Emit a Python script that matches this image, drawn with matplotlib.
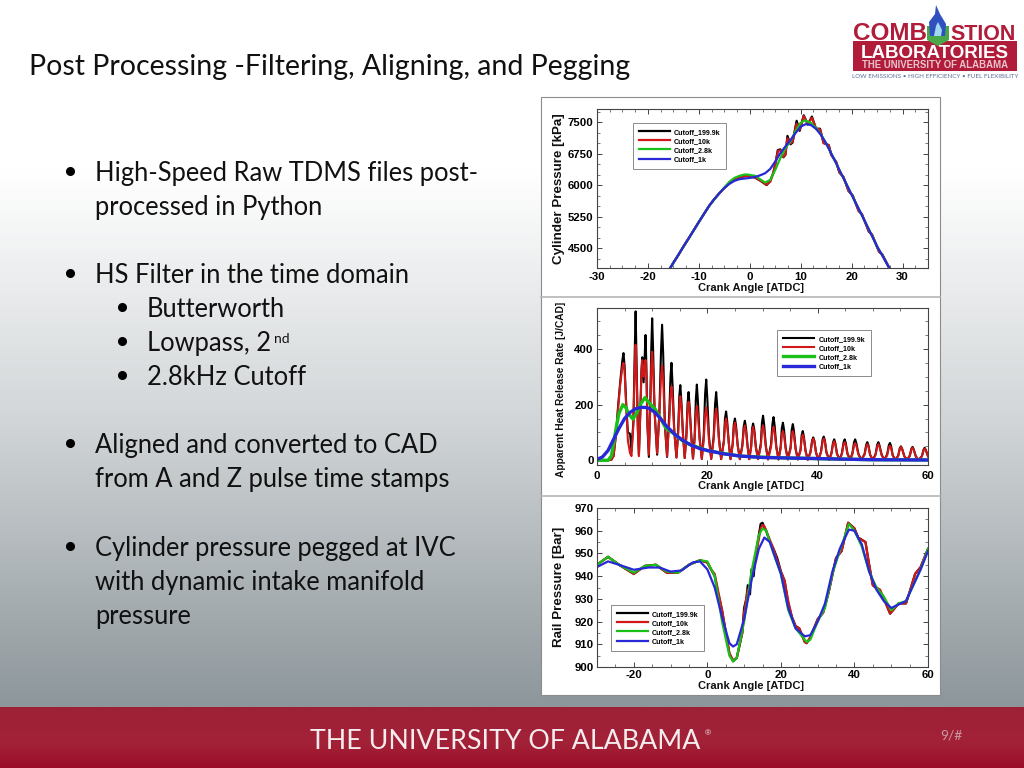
import matplotlib
matplotlib.use("Agg")
import matplotlib.pyplot as plt
from matplotlib.colors import LinearSegmentedColormap
from matplotlib.patches import Rectangle, Polygon
from matplotlib.ticker import MultipleLocator
import numpy as np

# slide text
title = "Post Processing -Filtering, Aligning, and Pegging"
body_lines = [
    ("High-Speed Raw TDMS files post-", 95, 181, True),
    ("processed in Python", 95, 215, False),
    ("HS Filter in the time domain", 95, 283, True),
    ("Butterworth", 147, 317, True),
    ("Lowpass, 2", 147, 351, True),
    ("2.8kHz Cutoff", 147, 385, True),
    ("Aligned and converted to CAD", 95, 453, True),
    ("from A and Z pulse time stamps", 95, 487, False),
    ("Cylinder pressure pegged at IVC", 95, 556, True),
    ("with dynamic intake manifold", 95, 590, False),
    ("pressure", 95, 624, False),
]
series_names = ["Cutoff_199.9k", "Cutoff_10k", "Cutoff_2.8k", "Cutoff_1k"]
series_colors = ["#000000", "#d01818", "#18c018", "#2828d8"]

# cylinder pressure, top panel
cyl_a_x = [-16, -15, -14, -13, -12, -11, -10, -9, -8, -7, -6, -5, -4, -3, -2, -0.5, 1, 2, 3.3, 4, 4.6, 5.1, 5.5, 6, 6.6, 7, 7.4, 8, 8.4, 9.2, 9.8,
           10.6, 11.4, 12.2, 13, 13.8, 14.5, 15.5, 16, 17, 17.6, 18.4, 19.4, 20.2, 21.4, 22, 23.4, 24, 25.4, 26, 27.6]
cyl_black = [3950, 4150, 4340, 4540, 4730, 4925, 5120, 5310, 5500, 5660, 5800, 5930, 6040, 6130, 6190, 6220, 6180, 6110, 6000, 6090, 6280, 6550, 6830, 6850, 6660, 6720,
             7170, 6970, 7010, 7530, 7290, 7660, 7440, 7630, 7340, 7340, 7000, 6950, 6720, 6540, 6300, 6190, 5860, 5750, 5380,
             5310, 4890, 4820, 4410, 4350, 3980]
cyl_red = [3950, 4150, 4340, 4540, 4730, 4925, 5120, 5310, 5500, 5660, 5800, 5930, 6040, 6130, 6190, 6220, 6180, 6110, 6010, 6080, 6280, 6530, 6810, 6830, 6670, 6730,
           7110, 6990, 7030, 7460, 7320, 7640, 7450, 7600, 7350, 7320, 7000, 6950, 6720, 6540, 6300, 6190, 5860, 5750, 5380,
           5310, 4890, 4820, 4410, 4350, 3980]
cyl_green_x = [-16, -14, -12, -10, -8, -6, -5, -4, -3, -2, -1, -0.5, 1, 2, 3, 4, 5, 6, 7, 8, 9, 10, 10.8, 12, 13, 14, 15, 16, 17, 18, 19, 20, 21, 22, 23, 24, 25, 26, 27, 27.6]
cyl_green = [3950, 4340, 4730, 5120, 5500, 5800, 5940, 6080, 6170, 6220, 6250, 6250, 6220, 6140, 6060, 6120, 6360, 6640, 6880, 7040, 7290, 7480, 7540,
             7480, 7360, 7200, 6990, 6750, 6510, 6260, 6020, 5770, 5530, 5285, 5040, 4790, 4540, 4330, 4110, 3980]
cyl_blue_x = [-16, -15, -14, -13, -12, -11, -10, -9, -8, -7, -6, -5, -4, -3, -2, 0, 1, 2, 3, 4, 5, 6, 7, 8, 9, 10, 11, 12, 13, 14, 15, 16, 17, 18, 19, 20, 21, 22, 23, 24, 25, 26, 27, 27.6]
cyl_blue = [3950, 4150, 4340, 4540, 4730, 4925, 5120, 5310, 5500, 5660, 5800, 5930, 6030, 6100, 6140, 6170, 6190, 6230, 6280, 6380, 6560, 6760, 6920, 7070, 7240, 7390, 7450,
            7430, 7340, 7190, 6990, 6750, 6510, 6260, 6020, 5770, 5530, 5285, 5040, 4790, 4540, 4330, 4110, 3980]

# heat release rate, middle panel
hrr_x = [0, 2, 2.6, 3.0, 3.5, 3.8, 4.2, 4.6, 4.8, 5.0, 5.3, 5.6, 6.0, 6.25,
         6.6, 6.85, 7.0, 7.15, 7.4, 7.6,
         7.85, 8.05, 8.2, 8.45, 8.65, 8.8, 8.95, 9.15, 9.4,
         9.65, 9.85, 10, 10.15, 10.45, 10.9,
         11.3, 11.6, 11.8, 12, 12.3, 12.7,
         13.1, 13.32, 13.5, 13.7, 14, 14.4,
         14.7, 14.92, 15.1, 15.3, 15.6, 15.9,
         16.2, 16.42, 16.6, 16.8, 17.1, 17.4,
         17.7, 17.92, 18.1, 18.3, 18.6, 19,
         19.35, 19.6, 19.8, 20, 20.3, 20.7,
         21.15, 21.4, 21.6, 21.8, 22.1, 22.5,
         23, 23.2, 23.4, 23.6, 23.9, 24.2,
         24.6, 24.8, 25, 25.2, 25.5, 25.9,
         26.35, 26.6, 26.8, 27, 27.3, 27.6,
         27.95, 28.12, 28.3, 28.5, 28.8, 29.2,
         29.7, 29.9, 30.1, 30.3, 30.6, 31,
         31.55, 31.8, 32, 32.2, 32.5, 32.9,
         33.3, 33.5, 33.7, 33.9, 34.2, 34.6,
         35.1, 35.3, 35.5, 35.7, 36, 36.4,
         36.9, 37.1, 37.3, 37.5, 37.8, 38.2,
         38.7, 39, 39.2, 39.4, 39.7, 40.1,
         40.6, 40.9, 41.1, 41.3, 41.6, 42.1,
         42.5, 42.8, 43, 43.2, 43.5, 44,
         44.4, 44.7, 44.9, 45.1, 45.4, 45.9,
         46.3, 46.6, 46.8, 47, 47.4, 47.9,
         48.5, 48.8, 49, 49.2, 49.5, 50,
         50.5, 50.8, 51, 51.2, 51.6, 52.1,
         52.6, 52.9, 53.1, 53.3, 53.6, 54.1,
         54.6, 54.9, 55.1, 55.3, 55.7, 56.2,
         56.7, 57, 57.2, 57.4, 57.8, 58.3,
         58.9, 59.2, 59.4, 59.6, 60]
hrr_black = [0, 0, 2, 15, 105, 190, 280, 360, 385, 340, 200, 100, 95, 35,
             140, 400, 535, 380, 120, 20,
             170, 320, 370, 280, 380, 450, 340, 120, 12,
             200, 410, 510, 410, 170, 20,
             170, 390, 487, 380, 130, 12,
             170, 300, 350, 270, 110, 10,
             100, 230, 270, 210, 90, 8,
             90, 205, 245, 190, 85, 6,
             85, 220, 272, 210, 80, 5,
             90, 240, 290, 220, 85, 5,
             85, 200, 245, 190, 80, 4,
             70, 150, 175, 140, 60, 4,
             60, 130, 150, 125, 55, 4,
             55, 122, 142, 118, 50, 4,
             52, 115, 132, 112, 48, 4,
             60, 135, 160, 128, 52, 3,
             58, 130, 155, 125, 50, 3,
             50, 115, 135, 110, 45, 3,
             48, 110, 130, 105, 42, 3,
             38, 90, 105, 85, 35, 2,
             30, 72, 82, 70, 28, 2,
             30, 75, 85, 72, 28, 2,
             26, 65, 75, 62, 24, 2,
             26, 65, 75, 62, 24, 2,
             26, 65, 75, 62, 22, 2,
             22, 56, 65, 54, 20, 1,
             22, 56, 65, 54, 20, 1,
             22, 54, 62, 52, 18, 1,
             17, 44, 50, 42, 15, 1,
             17, 42, 48, 40, 14, 1,
             15, 38, 45, 37, 14]
hrr_red = [0, 0, 2, 15, 100, 180, 270, 335, 350, 320, 190, 70, 25, 15,
           130, 350, 415, 330, 110, 15,
           170, 310, 360, 300, 340, 360, 310, 130, 20,
           190, 340, 390, 340, 170, 25,
           160, 300, 340, 290, 130, 15,
           140, 235, 265, 225, 105, 10,
           90, 200, 230, 190, 85, 8,
           85, 180, 210, 175, 80, 6,
           75, 165, 195, 160, 75, 5,
           75, 165, 190, 155, 70, 5,
           75, 160, 185, 155, 75, 4,
           65, 130, 150, 125, 60, 4,
           55, 118, 135, 115, 52, 4,
           50, 108, 125, 105, 48, 4,
           48, 105, 120, 102, 45, 4,
           50, 108, 125, 105, 48, 3,
           48, 103, 120, 100, 45, 3,
           42, 92, 105, 90, 40, 3,
           42, 92, 105, 90, 40, 3,
           35, 80, 92, 78, 32, 2,
           28, 68, 78, 68, 28, 2,
           28, 68, 78, 68, 26, 2,
           24, 60, 68, 58, 22, 2,
           24, 57, 65, 55, 22, 2,
           22, 55, 62, 53, 20, 2,
           20, 50, 58, 50, 20, 1,
           20, 50, 58, 50, 18, 1,
           18, 46, 52, 45, 17, 1,
           16, 42, 48, 41, 15, 1,
           15, 40, 45, 38, 13, 1,
           14, 37, 42, 36, 14]
hrr_green_x = [0, 2, 2.6, 3, 3.5, 4, 4.7, 5.2, 5.8, 6.5, 7.2, 8, 8.7, 9.5, 10.5, 11.5, 12.5, 14, 15.5, 17, 18.5, 20, 23, 26, 30, 35, 40, 45, 50, 60]
hrr_green = [0, 0, 15, 60, 120, 170, 200, 190, 165, 148, 170, 205, 225, 205, 185, 150, 115, 95, 70, 55, 45, 35, 24, 15, 11, 8, 6, 4, 2, 1]
hrr_blue_x = [0, 1, 2, 3, 4, 5, 6, 7, 8, 8.7, 9.5, 10.5, 11.5, 12.5, 14, 15.5, 17, 18.5, 20, 23, 26, 30, 35, 40, 45, 50, 60]
hrr_blue = [3, 12, 35, 75, 115, 150, 172, 185, 190, 190, 186, 172, 150, 125, 95, 72, 55, 43, 35, 23, 15, 10, 8, 6, 4, 2, 1]

# rail pressure, bottom panel
rail_x = [-30, -27, -24, -20, -17, -14, -11, -8, -5, -2, 0, 1, 2, 3, 4, 6, 7, 8, 9.5, 10, 10.6, 11, 11.6, 12, 12.6, 13, 14.5, 15,
          15.5, 16, 17, 18, 19, 20, 21, 22, 23, 24, 25, 26.5, 27, 28, 29, 30, 31.5, 33, 35, 36.5, 38.3, 40, 41, 43, 44, 45, 47,
          48, 49.7, 51, 52, 54, 55, 56.5, 58, 60]
rail_black = [945, 948.5, 945, 941, 944.5, 945, 941.5, 941.5, 945, 947, 946, 943, 940, 932, 925, 906, 902.5, 904, 915, 926, 930, 936,
              932, 943, 940, 948, 963, 963.5, 961.5, 960, 955, 952, 948, 942, 938, 928, 922, 918, 917, 911, 910.5, 913, 917, 921, 924, 933, 948,
              951, 963.5, 961, 957, 955, 945, 936, 933, 930, 923.5, 926, 928, 928, 933, 941, 944, 952]
rail_red = [945, 948.5, 945, 941, 944.5, 945, 941.5, 941.5, 945, 947, 946, 943, 941, 933, 925, 906, 903, 904, 915, 924, 930, 934,
            935, 941, 943, 947, 961, 962.5, 962, 960, 956, 952, 947, 942, 938, 929, 922, 918, 917, 911, 910.5, 913, 917, 921, 924, 933, 948,
            951, 963.5, 961, 957, 955, 945, 936, 934, 930, 923.5, 926, 928, 928, 933, 941, 944, 952]
rail_green_x = [-30, -27, -24, -20, -17, -14, -11, -8, -5, -2, 0, 2, 4, 6, 7, 8, 10, 12, 14, 15, 16, 18, 20, 22, 24, 27, 28, 30, 32, 34, 36, 38.5,
                40, 42, 44, 46, 48, 50, 52, 54, 56, 58, 60]
rail_green = [945, 948.5, 945, 941.5, 944.5, 945, 942, 941.5, 945, 947, 946.5, 940, 920, 905, 902.5, 904, 920, 942, 958, 961, 960, 950, 941,
              925, 917, 911, 912, 920, 926, 941, 951, 963, 960, 953, 942, 935, 931, 925, 928, 929, 936, 943, 952]
rail_blue_x = [-30, -27, -24, -20, -16, -13, -10, -7, -4, -2, 0, 2, 4, 6, 7, 8, 10, 12, 14, 15.5, 17, 20, 22, 24, 26.5, 28, 30, 32, 34, 36, 38.5,
               40, 42, 44, 46, 48, 50, 52, 54, 56, 58, 60]
rail_blue = [944, 946.5, 945, 942.8, 943.8, 943.8, 942, 942.5, 946, 946.5, 943, 935, 922, 910.5, 909, 910, 921, 938, 952, 957, 955, 941,
             926, 917, 913.5, 914, 920, 928, 942, 952, 960.5, 960, 954, 942, 934, 929, 926, 927.5, 929, 936, 943, 951]

W, H = 1024, 768
plt.rcParams["font.family"] = ["Liberation Sans", "DejaVu Sans"]
plt.rcParams["axes.unicode_minus"] = False
fig = plt.figure(figsize=(W / 100, H / 100), dpi=100)


def px_axes(left, top, right, bottom):
    return fig.add_axes([left / W, 1 - bottom / H, (right - left) / W, (bottom - top) / H], zorder=3)


# background in pixel coordinates
bg = fig.add_axes([0, 0, 1, 1], zorder=1)
bg.set_xlim(0, W)
bg.set_ylim(H, 0)
bg.axis("off")
grey = LinearSegmentedColormap.from_list("g", [(0, "#ffffff"), (0.24, "#ffffff"), (0.6, "#d1d5d7"), (1, "#8d969b")])
bg.imshow(np.linspace(0, 1, 256).reshape(-1, 1), cmap=grey, extent=(0, W, 707, 0), aspect="auto", zorder=0)
red = LinearSegmentedColormap.from_list("r", [(0, "#9d2136"), (0.6, "#a32238"), (1, "#9b0c28")])
bg.imshow(np.linspace(0, 1, 64).reshape(-1, 1), cmap=red, extent=(0, W, H, 707), aspect="auto", zorder=0)
bg.set_xlim(0, W)
bg.set_ylim(H, 0)

bg.text(29, 75, title, fontsize=20.5, family="Lato", color="#111111", va="baseline")
for line, x, y, bullet in body_lines:
    bg.text(x, y, line, fontsize=18.4, family="Lato", color="#111111", va="baseline")
    if bullet:
        bg.plot([x - 25], [y - 10], "o", ms=5.5, color="black")
bg.text(274, 343, "nd", fontsize=10, family="Lato", color="#111111", va="baseline")

# footer
bg.text(310, 749, "THE UNIVERSITY OF ALABAMA", fontsize=19.3, family="Lato", color="#f4eced", va="baseline")
bg.text(705, 735, "®", fontsize=6, color="#f4eced", va="baseline")
bg.text(940, 739, "9/#", fontsize=10, family="Lato", color="#c99aa6", va="baseline")

# logo
logo_red = "#b01c3a"
bg.add_patch(Rectangle((853, 41), 164, 30, fc=logo_red, ec="none"))
bg.text(853, 40, "COMB", fontsize=17.5, weight="bold", color=logo_red, va="baseline")
bg.text(950, 40, "STION", fontsize=15.5, weight="bold", color=logo_red, va="baseline")
bg.add_patch(Polygon([(927, 26), (949, 26), (949, 40), (938, 46), (927, 40)], fc="#4aa84a", ec="none"))
bg.add_patch(Polygon([(930, 36), (929, 22), (935, 14), (936, 5), (940, 14), (946, 24), (945, 36)], fc="#3050c0", ec="none"))
bg.add_patch(Polygon([(934, 36), (936, 26), (938, 22), (942, 30), (941, 36)], fc="#a0d8f0", ec="none"))
bg.text(935, 58, "LABORATORIES", fontsize=13.5, weight="bold", color="white", ha="center", va="baseline")
bg.text(935, 68.5, "THE UNIVERSITY OF ALABAMA", fontsize=6.9, weight="bold", color="#e9c4cc", ha="center", va="baseline")
bg.text(935, 78, "LOW EMISSIONS • HIGH EFFICIENCY • FUEL FLEXIBILITY", fontsize=4.5, family="Lato", color="#5a6f95", ha="center", va="baseline")

# white chart picture with its frame and separators
bg.add_patch(Rectangle((541, 97), 399, 598, fc="white", ec="#8c8c8c", lw=0.8, zorder=1))
bg.plot([541, 940], [297, 297], color="#b5b5b5", lw=1.2, zorder=1)
bg.plot([541, 940], [496, 496], color="#b5b5b5", lw=1.2, zorder=1)


def style(ax, xmin, xmax, ymin, ymax, xmin_step, ymin_step, xticks, yticks, xpad=2.5):
    ax.set_xlim(xmin, xmax)
    ax.set_ylim(ymin, ymax)
    ax.set_xticks(xticks)
    ax.set_yticks(yticks)
    ax.xaxis.set_minor_locator(MultipleLocator(xmin_step))
    ax.yaxis.set_minor_locator(MultipleLocator(ymin_step))
    ax.tick_params(which="major", direction="in", top=True, right=True, length=3.5, width=0.7, color="#444444",
                   labelsize=8.2, pad=2.5)
    ax.tick_params(axis="x", which="major", pad=xpad)
    ax.tick_params(which="minor", direction="in", top=True, right=True, length=2, width=0.5, color="#444444")
    for lab in ax.get_xticklabels() + ax.get_yticklabels():
        lab.set_fontweight("bold")
    for s in ax.spines.values():
        s.set_linewidth(0.8)
        s.set_color("#444444")


def add_legend(ax, handles, left, top, pad):
    leg = ax.legend(handles, series_names, loc="upper left", bbox_to_anchor=(left, top), bbox_transform=bg.transData,
                    borderaxespad=0, prop={"weight": "bold", "size": 5.1}, handlelength=4.4,
                    handletextpad=pad, labelspacing=0.3, borderpad=0.8, fancybox=False, framealpha=1, edgecolor="#8a8a8a")
    leg.get_frame().set_linewidth(0.7)


# cylinder pressure
ax1 = px_axes(597, 109, 928, 268)
h1 = []
for xs, ys, c in zip([cyl_a_x, cyl_a_x, cyl_green_x, cyl_blue_x], [cyl_black, cyl_red, cyl_green, cyl_blue], series_colors):
    h1 += ax1.plot(xs, ys, color=c, lw=1.6)
style(ax1, -30, 35, 4025, 7810, 2.5, 250, [-30, -20, -10, 0, 10, 20, 30], [4500, 5250, 6000, 6750, 7500], xpad=3)
add_legend(ax1, h1, 633, 123, 0.6)

# heat release
ax2 = px_axes(597, 308, 928, 465)
h2 = []
for xs, ys, c, lw in zip([hrr_x, hrr_x, hrr_green_x, hrr_blue_x], [hrr_black, hrr_red, hrr_green, hrr_blue], series_colors, [1.5, 1.5, 2.4, 2.4]):
    h2 += ax2.plot(xs, ys, color=c, lw=lw, solid_joinstyle="round")
style(ax2, 0, 60, -17, 547, 5, 50, [0, 20, 40, 60], [0, 200, 400], xpad=4.5)
add_legend(ax2, h2, 777, 330, 0.7)

# rail pressure
ax3 = px_axes(597, 508, 928, 667)
h3 = []
for xs, ys, c in zip([rail_x, rail_x, rail_green_x, rail_blue_x], [rail_black, rail_red, rail_green, rail_blue], series_colors):
    h3 += ax3.plot(xs, ys, color=c, lw=1.6)
style(ax3, -30, 60, 900, 970, 5, 5, [-20, 0, 20, 40, 60], [900, 910, 920, 930, 940, 950, 960, 970])
add_legend(ax3, h3, 611, 605, 0.6)

# axis titles sit off-centre in the source picture, so place them by pixel
lab = fig.add_axes([0, 0, 1, 1], zorder=4)
lab.set_xlim(0, W)
lab.set_ylim(H, 0)
lab.axis("off")
for y in [288, 486, 686]:
    lab.text(751, y, "Crank Angle [ATDC]", fontsize=8, weight="bold", ha="center", va="center", color="#111111")
lab.text(559, 189, "Cylinder Pressure [kPa]", fontsize=9.6, weight="bold", rotation=90, ha="center", va="center", color="#111111")
lab.text(561, 389, "Apparent Heat Release Rate [J/CAD]", fontsize=7.3, weight="bold", rotation=90, ha="center", va="center", color="#111111")
lab.text(559, 587, "Rail Pressure [Bar]", fontsize=9.6, weight="bold", rotation=90, ha="center", va="center", color="#111111")

plt.savefig("out.png", dpi=100)
plt.close()
